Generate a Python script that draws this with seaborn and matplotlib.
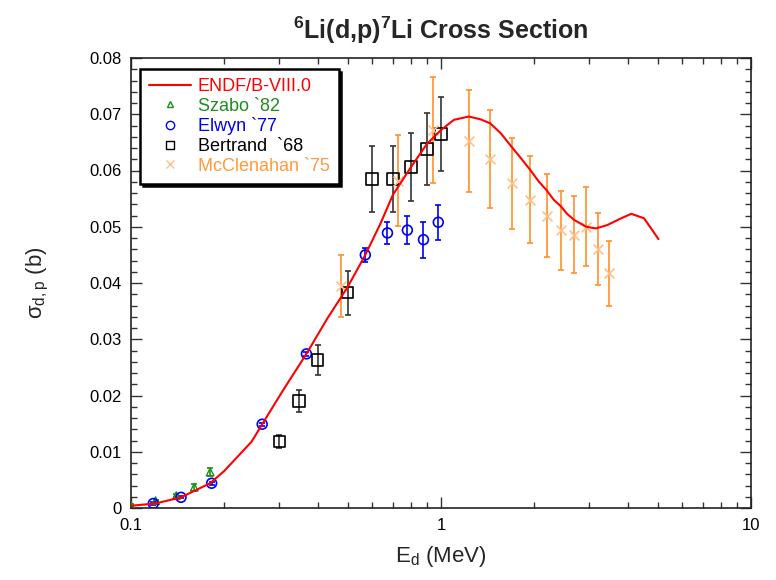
import matplotlib
matplotlib.use("Agg")
import matplotlib.pyplot as plt
from matplotlib import font_manager
from matplotlib.lines import Line2D
from matplotlib.ticker import MultipleLocator, LogLocator, FuncFormatter, NullFormatter
import seaborn as sns
import numpy as np

# ---------------- data ----------------
endf_E = [0.1, 0.12, 0.145, 0.18, 0.2, 0.245, 0.265, 0.31, 0.368, 0.43, 0.5, 0.57,
          0.637, 0.7, 0.8, 0.9, 1.0, 1.10, 1.23, 1.34, 1.44, 1.56, 1.69, 1.81, 1.94,
          2.07, 2.19, 2.31, 2.44, 2.55, 2.69, 2.94, 3.16, 3.44, 3.81, 4.11, 4.52, 5.03]
endf_sig = [0.0004, 0.0008, 0.0019, 0.0044, 0.0066, 0.0118, 0.0149, 0.021, 0.0274,
            0.0337, 0.0393, 0.045, 0.0505, 0.0557, 0.0606, 0.0647, 0.0672, 0.0690,
            0.0696, 0.0691, 0.0684, 0.0666, 0.0642, 0.0622, 0.0601, 0.0580, 0.0565,
            0.0548, 0.0536, 0.0523, 0.0512, 0.0500, 0.0497, 0.0503, 0.0515, 0.0523,
            0.0515, 0.0478]

szabo_E = [0.1, 0.12, 0.14, 0.16, 0.18]
szabo_sig = [0.0005, 0.0013, 0.0022, 0.0037, 0.0064]
szabo_err = [0.0002, 0.0002, 0.0003, 0.0006, 0.0007]

elwyn_E = [0.118, 0.145, 0.182, 0.265, 0.368, 0.57, 0.672, 0.779, 0.878, 0.98]
elwyn_sig = [0.0008, 0.0019, 0.0044, 0.0149, 0.0274, 0.045, 0.0489, 0.0494, 0.0477, 0.0508]
elwyn_err = [0.0002, 0.0002, 0.0003, 0.0003, 0.0003, 0.0012, 0.0019, 0.0025, 0.0032, 0.0031]

bert_E = [0.301, 0.349, 0.40, 0.50, 0.60, 0.70, 0.80, 0.90, 1.0]
bert_sig = [0.0118, 0.019, 0.0263, 0.0383, 0.0585, 0.0585, 0.0606, 0.0638, 0.0665]
bert_err = [0.0012, 0.0019, 0.0027, 0.0039, 0.0059, 0.0059, 0.006, 0.0064, 0.0066]

mcc_E = [0.477, 0.724, 0.944, 1.23, 1.44, 1.69, 1.94, 2.19, 2.44, 2.69, 2.94, 3.21, 3.47]
mcc_sig = [0.0395, 0.0582, 0.0672, 0.0652, 0.0621, 0.0577, 0.0548, 0.052, 0.0494,
           0.0486, 0.050, 0.046, 0.0417]
mcc_err = [0.0055, 0.0081, 0.0094, 0.0091, 0.0087, 0.0081, 0.0077, 0.0073, 0.0070,
           0.0068, 0.0070, 0.0064, 0.0058]

labels = ["ENDF/B-VIII.0", "Szabo `82", "Elwyn `77", "Bertrand  `68", "McClenahan `75"]
title = "$^{\\mathbf{6}}$Li(d,p)$^{\\mathbf{7}}$Li Cross Section"
xlabel = "E$_{\\rm d}$ (MeV)"
ylabel = "σ$_{\\rm d,p}$ (b)"

# ---------------- style ----------------
sns.set_style("ticks")
names = {f.name for f in font_manager.fontManager.ttflist}
base = "Liberation Sans"
narrow = "Liberation Sans Narrow" if "Liberation Sans Narrow" in names else base
plt.rcParams["font.family"] = [base, "DejaVu Sans"]
plt.rcParams["mathtext.fontset"] = "custom"
plt.rcParams["mathtext.rm"] = base
plt.rcParams["mathtext.it"] = base + ":italic"
plt.rcParams["mathtext.bf"] = narrow + ":bold"

RED = "#FF0000"
GREEN = "#1E8C1E"
BLUE = "#0000F0"
BLACK = "#000000"
ORANGE = "#FF9A3C"
ORANGE_BAR = "#FF9028"
ORANGE_MK = "#FFC08A"

fig = plt.figure(figsize=(7.76, 5.8), dpi=100)
ax = fig.add_axes([131 / 776, 1 - 508 / 580, 620 / 776, 450 / 580])

# ENDF curve
sns.lineplot(x=endf_E, y=endf_sig, color=RED, linewidth=1.5, sort=False, ax=ax, zorder=5)

# error bars
eb = dict(fmt="none", capsize=2.5, elinewidth=1.2, capthick=1.2)
ax.errorbar(szabo_E, szabo_sig, yerr=szabo_err, ecolor=GREEN, zorder=3, **eb)
ax.errorbar(elwyn_E, elwyn_sig, yerr=elwyn_err, ecolor=BLUE, zorder=3, **eb)
ax.errorbar(bert_E, bert_sig, yerr=bert_err, ecolor="#333333", zorder=3, **eb)
ax.errorbar(mcc_E, mcc_sig, yerr=mcc_err, ecolor=ORANGE_BAR, zorder=2, **eb)

# markers
sns.scatterplot(x=szabo_E, y=szabo_sig, marker="^", s=30, color=GREEN, facecolor="none",
                edgecolor=GREEN, linewidth=1, ax=ax, zorder=4)
sns.scatterplot(x=elwyn_E, y=elwyn_sig, marker="o", s=50, color=BLUE, facecolor="none",
                edgecolor=BLUE, linewidth=1.2, ax=ax, zorder=4)
sns.scatterplot(x=bert_E, y=bert_sig, marker="s", s=70, color=BLACK, facecolor="none",
                edgecolor=BLACK, linewidth=1.2, ax=ax, zorder=4)
sns.scatterplot(x=mcc_E, y=mcc_sig, marker="x", s=50, color=ORANGE_MK,
                linewidth=1.2, ax=ax, zorder=4)

# axes
ax.set_xscale("log")
ax.set_xlim(0.1, 10)
ax.set_ylim(0, 0.08)
ax.xaxis.set_major_locator(LogLocator(base=10))
ax.xaxis.set_minor_locator(LogLocator(base=10, subs=np.arange(2, 10)))
ax.xaxis.set_major_formatter(FuncFormatter(lambda v, p: f"{v:g}"))
ax.xaxis.set_minor_formatter(NullFormatter())
ax.yaxis.set_major_locator(MultipleLocator(0.01))
ax.yaxis.set_minor_locator(MultipleLocator(0.002))
ax.yaxis.set_major_formatter(FuncFormatter(lambda v, p: "0" if abs(v) < 1e-12 else f"{v:.2f}"))
ax.tick_params(which="both", direction="in", top=True, right=True, colors="#333333",
               labelcolor="black", labelsize=12, width=1)
ax.tick_params(which="major", length=8, pad=7)
ax.tick_params(which="minor", length=4.5)
for sp in ax.spines.values():
    sp.set_visible(True)
    sp.set_color("#222222")
    sp.set_linewidth(1.2)

ax.set_xlabel(xlabel, fontsize=16, labelpad=8)
ax.set_ylabel(ylabel, fontsize=16, labelpad=27)
ax.set_title(title, fontsize=18, fontweight="bold", family=[narrow], pad=14)

# legend
handles = [
    Line2D([], [], color=RED, linewidth=1.5),
    Line2D([], [], color=GREEN, marker="^", markersize=5, markerfacecolor="none", linestyle="none"),
    Line2D([], [], color=BLUE, marker="o", markersize=6, markerfacecolor="none", linestyle="none"),
    Line2D([], [], color=BLACK, marker="s", markersize=6, markerfacecolor="none", linestyle="none"),
    Line2D([], [], color=ORANGE_MK, marker="x", markersize=6, linestyle="none"),
]
leg = ax.legend(handles, labels, loc="upper left", bbox_to_anchor=(0.0145, 0.976),
                borderaxespad=0, fontsize=13, frameon=True, fancybox=False,
                edgecolor="black", framealpha=1, handlelength=2.3, handletextpad=0.4,
                labelspacing=0.15, borderpad=0.5,
                shadow={"color": "black", "alpha": 1})
leg.get_frame().set_linewidth(1.8)
for t, c in zip(leg.get_texts(), [RED, GREEN, BLUE, BLACK, ORANGE]):
    t.set_color(c)
leg.set_zorder(10)

fig.savefig("out.png", dpi=100)
